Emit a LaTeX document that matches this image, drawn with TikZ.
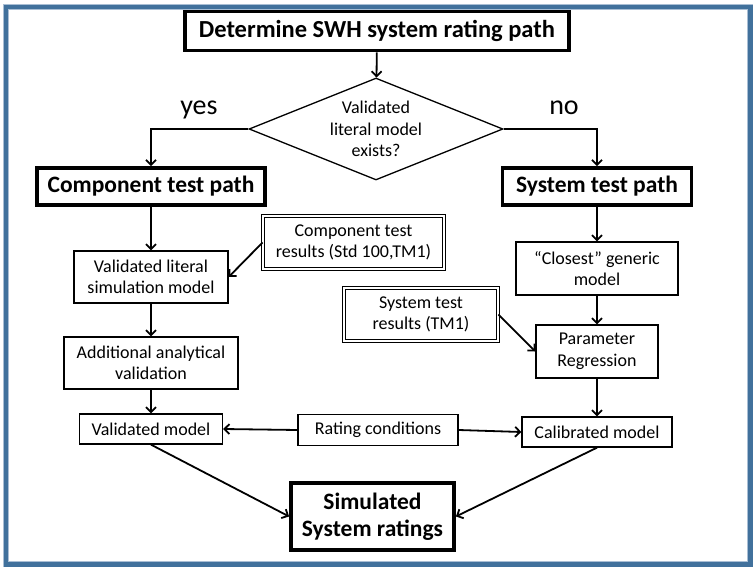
\documentclass[tikz,border=0pt]{standalone}
\usepackage{fontspec}
\setmainfont{Carlito}
\usepackage{tikz}
\usetikzlibrary{arrows.meta,shapes.geometric}

\definecolor{framedark}{HTML}{41719C}
\definecolor{framelight}{HTML}{A9BED4}

\begin{document}
\begin{tikzpicture}[x=1pt, y=-1pt,
    box/.style={draw, line width=1.3pt, align=center, inner sep=0pt,
      font=\fontsize{18}{21.6}\selectfont},
    bigbox/.style={box, line width=3.8pt, font=\bfseries\fontsize{23.5}{27}\selectfont},
    dblbox/.style={box, line width=0.9pt, double, double distance=1.6pt},
    lbl/.style={inner sep=0pt, font=\fontsize{28}{32}\selectfont},
    arr/.style={line width=1.8pt, -{Straight Barb[length=5pt,width=10pt]}}]
    \useasboundingbox (0,0) rectangle (753,567);
    \begin{scope}
      \draw[framelight, line width=6.5pt] (6,7) rectangle (750.5,564.5);
      \draw[framedark, line width=4.5pt] (6,7) rectangle (750.5,564.5);
    \end{scope}

    \node[bigbox, minimum width=384, minimum height=39, font=\bfseries\fontsize{24.5}{28}\selectfont] (det) at (377,31) {Determine SWH system rating path};
    \node[draw, line width=1.3pt, diamond, aspect=2.5, inner sep=0pt, minimum width=254,
      minimum height=102, align=center, font=\fontsize{18}{21.6}\selectfont] (valid) at (376,129)
      {Validated\\literal model\\exists?};
    \node[lbl, anchor=base] (yes) at (199,115) {yes};
    \node[lbl, anchor=base] (no) at (564,115) {no};

    \node[bigbox, minimum width=228, minimum height=37] (comp) at (151,186.5) {Component test path};
    \node[bigbox, minimum width=189, minimum height=37] (sys) at (597,186.5) {System test path};

    \node[box, minimum width=154, minimum height=52] (vlit) at (151,277) {Validated literal\\simulation model};
    \node[dblbox, minimum width=181, minimum height=53] (compres) at (353.5,242.5) {Component test\\results (Std 100,TM1)};
    \node[box, minimum width=174, minimum height=52] (addval) at (151,363) {Additional analytical\\validation};
    \node[box, minimum width=143, minimum height=30] (vmod) at (151,429) {Validated model};

    \node[box, minimum width=162, minimum height=53] (closest) at (597,268.5) {“Closest” generic\\model};
    \node[dblbox, minimum width=154, minimum height=53] (sysres) at (421,314.5) {System test\\results (TM1)};
    \node[box, minimum width=122, minimum height=53] (param) at (597,351.5) {Parameter\\Regression};
    \node[box, minimum width=150, minimum height=30] (calib) at (597,432) {Calibrated model};

    \node[box, minimum width=160, minimum height=31] (rating) at (378,430) {Rating conditions};
    \node[bigbox, minimum width=163, minimum height=67] (simrat) at (372.5,516.5) {Simulated\\System ratings};

    \draw[arr] (det) -- (valid);
    \draw[arr] (valid.west) -| (comp.north);
    \draw[arr] (valid.east) -| (sys.north);

    \draw[arr] (comp) -- (vlit);
    \draw[arr] (compres.west) -- (vlit.east);
    \draw[arr] (vlit) -- (addval);
    \draw[arr] (addval) -- (vmod);

    \draw[arr] (sys) -- (closest);
    \draw[arr] (closest) -- (param);
    \draw[arr] (sysres.east) -- (param.west);
    \draw[arr] (param) -- (calib);

    \draw[arr] (rating.west) -- (vmod.east);
    \draw[arr] (rating.east) -- (calib.west);
    \draw[arr] (vmod.south) -- (simrat.west);
    \draw[arr] (calib.south) -- (simrat.east);
  \end{tikzpicture}
\end{document}
